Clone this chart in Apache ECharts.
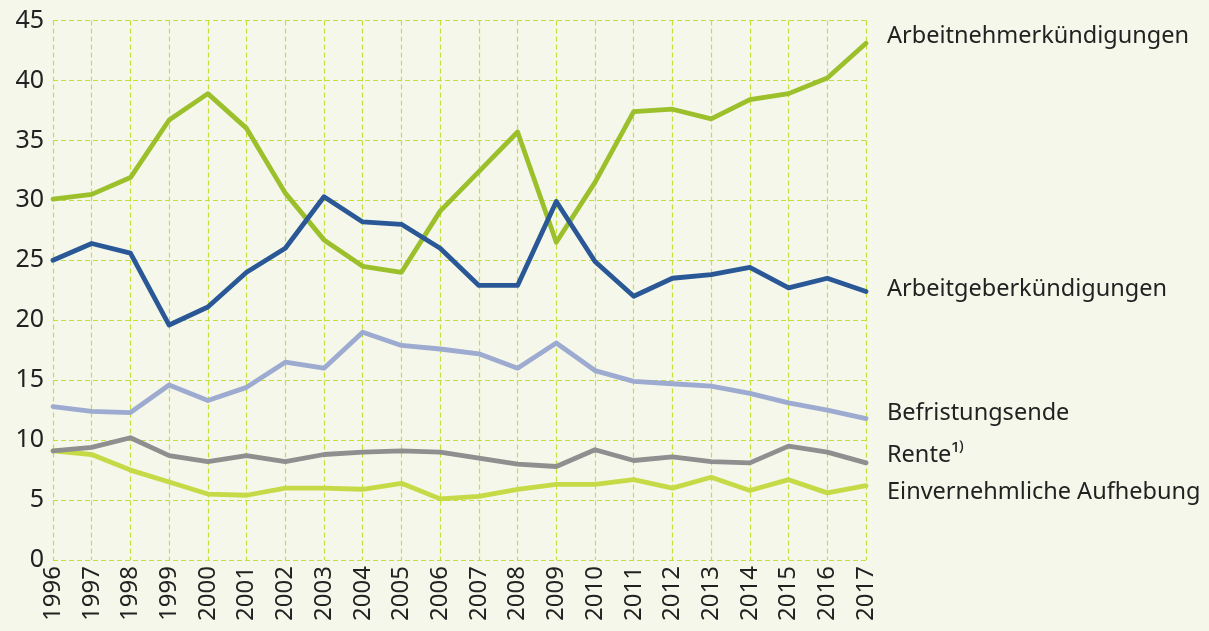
<!DOCTYPE html>
<html>
<head>
<meta charset="utf-8">
<script src="https://cdn.jsdelivr.net/npm/echarts@6/dist/echarts.min.js"></script>
<style>
  html, body { margin: 0; padding: 0; background: #f5f7ea; }
  #chart { width: 1209px; height: 631px; }
</style>
</head>
<body>
<div id="chart"></div>
<script>
  var years = ['1996','1997','1998','1999','2000','2001','2002','2003','2004','2005','2006',
               '2007','2008','2009','2010','2011','2012','2013','2014','2015','2016','2017'];

  var arbeitnehmer = [30.1, 30.5, 31.9, 36.7, 38.9, 36.0, 30.6, 26.7, 24.5, 24.0, 29.1,
                      32.4, 35.7, 26.5, 31.5, 37.4, 37.6, 36.8, 38.4, 38.9, 40.2, 43.1];
  var arbeitgeber  = [25.0, 26.4, 25.6, 19.6, 21.1, 24.0, 26.0, 30.3, 28.2, 28.0, 26.0,
                      22.9, 22.9, 29.9, 24.9, 22.0, 23.5, 23.8, 24.4, 22.7, 23.5, 22.4];
  var befristung   = [12.8, 12.4, 12.3, 14.6, 13.3, 14.4, 16.5, 16.0, 19.0, 17.9, 17.6,
                      17.2, 16.0, 18.1, 15.8, 14.9, 14.7, 14.5, 13.9, 13.1, 12.5, 11.8];
  var rente        = [9.1, 9.4, 10.2, 8.7, 8.2, 8.7, 8.2, 8.8, 9.0, 9.1, 9.0,
                      8.5, 8.0, 7.8, 9.2, 8.3, 8.6, 8.2, 8.1, 9.5, 9.0, 8.1];
  var einvernehm   = [9.1, 8.8, 7.5, 6.5, 5.5, 5.4, 6.0, 6.0, 5.9, 6.4, 5.1,
                      5.3, 5.9, 6.3, 6.3, 6.7, 6.0, 6.9, 5.8, 6.7, 5.6, 6.2];

  var yTicks = [0, 5, 10, 15, 20, 25, 30, 35, 40, 45];

  var chart = echarts.init(document.getElementById('chart'));

  function makeSeries(name, data, color, dy, z) {
    return {
      name: name,
      type: 'line',
      data: data,
      symbol: 'none',
      z: z,
      lineStyle: { color: color, width: 4.8, cap: 'round', join: 'round' },
      endLabel: {
        show: true,
        formatter: name,
        offset: [13, dy],
        color: '#222',
        fontSize: 23.5,
        fontFamily: 'Noto Sans'
      }
    };
  }

  chart.setOption({
    backgroundColor: '#f5f7ea',
    animation: false,
    grid: { left: 53, top: 20.5, right: 343, bottom: 71, containLabel: false },
    xAxis: {
      type: 'category',
      data: years,
      boundaryGap: false,
      axisLine: { show: false },
      axisTick: { show: false },
      axisLabel: {
        rotate: 90,
        margin: 6,
        interval: 0,
        color: '#222',
        fontSize: 24,
        fontFamily: 'Noto Sans'
      },
      splitLine: {
        show: true,
        interval: 0,
        lineStyle: { color: '#c6df3a', type: [5, 3], width: 1.2 }
      }
    },
    yAxis: {
      type: 'value',
      min: yTicks[0],
      max: yTicks[yTicks.length - 1],
      interval: 5,
      axisLine: { show: false },
      axisTick: { show: false },
      axisLabel: {
        margin: 9,
        color: '#222',
        fontSize: 25,
        fontFamily: 'Noto Sans'
      },
      splitLine: {
        show: true,
        lineStyle: { color: '#c6df3a', type: [5, 3], width: 1.2 }
      }
    },
    series: [
      makeSeries('Einvernehmliche Aufhebung', einvernehm, '#c6da47', 7, 2),
      makeSeries('Rente\u00b9\u207e', rente, '#8f8f8f', -8, 3),
      makeSeries('Befristungsende', befristung, '#9eabd1', -5, 4),
      makeSeries('Arbeitnehmerkündigungen', arbeitnehmer, '#9cc02c', -7, 5),
      makeSeries('Arbeitgeberkündigungen', arbeitgeber, '#2a5896', -2, 6)
    ]
  });
</script>
</body>
</html>
